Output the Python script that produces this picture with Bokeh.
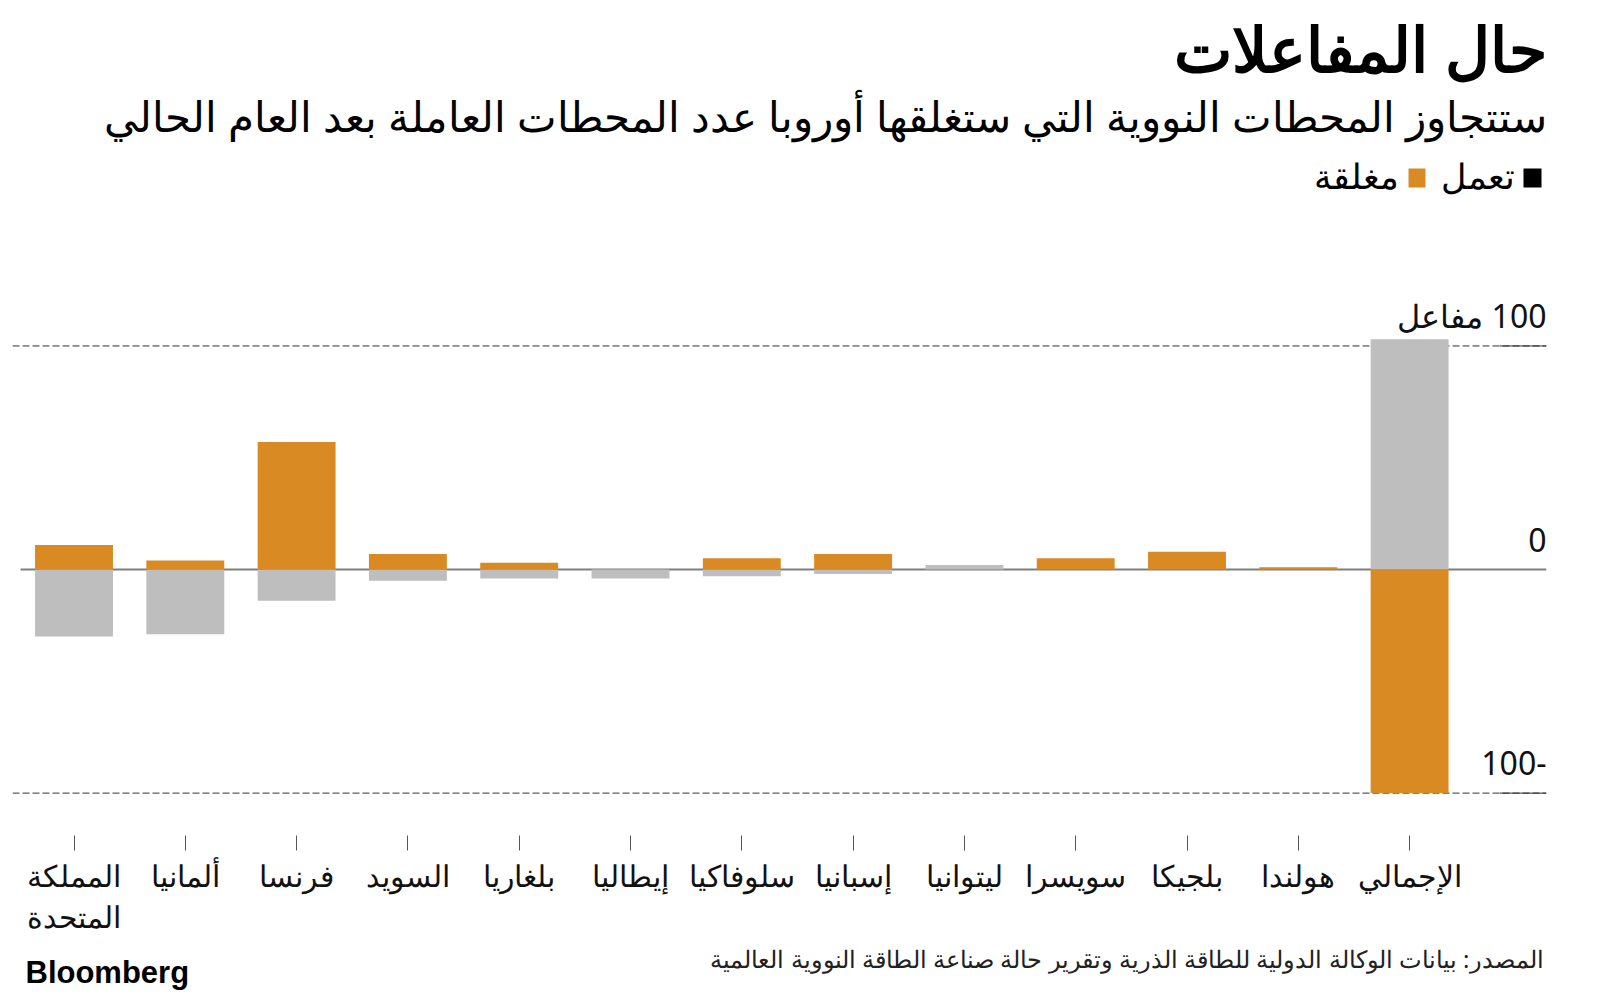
from bokeh.plotting import figure
from bokeh.models import Range1d, FixedTicker, LinearAxis, Span, Label
from bokeh.layouts import column
from bokeh.core.properties import value
from bokeh.embed import file_html
from bokeh.resources import INLINE

# ---------------- data ----------------
categories = ["المملكة\nالمتحدة", "ألمانيا", "فرنسا", "السويد", "بلغاريا", "إيطاليا",
              "سلوفاكيا", "إسبانيا", "ليتوانيا", "سويسرا", "بلجيكا", "هولندا", "الإجمالي"]
closed_values = [11, 4, 57, 7, 3, 0, 5, 7, 0, 5, 8, 1, -100]            # orange
operating_values = [-30, -29, -14, -5, -4, -4, -3, -2, 2, 0, 0, 0, 103]  # grey
y_ticks = [-100, 0, 100]
y_tick_labels = ["100-", "0", "\u200f100 مفاعل"]

title = "حال المفاعلات"
subtitle = "ستتجاوز المحطات النووية التي ستغلقها أوروبا عدد المحطات العاملة بعد العام الحالي"
legend_labels = ["تعمل", "مغلقة"]
source_text = "المصدر: بيانات الوكالة الدولية للطاقة الذرية وتقرير حالة صناعة الطاقة النووية العالمية"

ORANGE = "#DA8A22"
GREY = "#BEBEBE"
FONT = "Noto Sans"

W = 1600
HEADER_H = 250
MAIN_H = 690
FOOTER_H = 56
FRAME_L, FRAME_R = 12, 1546


def blank(height):
    f = figure(width=W, height=height, output_backend="svg", toolbar_location=None,
               x_range=Range1d(FRAME_L, FRAME_R), y_range=Range1d(height, 0),
               min_border_left=FRAME_L, min_border_right=W - FRAME_R,
               min_border_top=0, min_border_bottom=0,
               x_axis_type=None, y_axis_type=None)
    f.title.visible = False
    f.outline_line_color = None
    f.background_fill_color = "white"
    f.border_fill_color = "white"
    f.grid.visible = False
    return f


def add_label(f, text, x, y, size, align="right", bold=False, color="#000000", font=FONT):
    f.add_layout(Label(x=x, y=y, text=text, text_align=align, text_baseline="alphabetic",
                       text_font_size=f"{size}px", text_font_style="bold" if bold else "normal",
                       text_color=color, text_font=font))


# ---------------- header ----------------
header = blank(HEADER_H)
add_label(header, title, 1546, 47, 62, bold=True)
add_label(header, subtitle, 1546, 115, 42)
header.quad(left=[1523, 1408], right=[1541, 1425], top=[168, 168], bottom=[187, 187],
            fill_color=["#000000", ORANGE], line_color=None)
add_label(header, legend_labels[0], 1514, 175, 35)
add_label(header, legend_labels[1], 1398, 175, 35)

# ---------------- main chart ----------------
frame_bottom = 835 - HEADER_H  # within main figure
x_start, x_end = -0.5526, 13.23
y_start, y_end = -118.96, 142.7
idx = list(range(len(categories)))

p = figure(width=W, height=MAIN_H, output_backend="svg", toolbar_location=None,
           x_range=Range1d(x_start, x_end), y_range=Range1d(y_start, y_end),
           min_border_left=FRAME_L, min_border_right=W - FRAME_R,
           min_border_top=0, min_border_bottom=MAIN_H - frame_bottom,
           x_axis_type=None, y_axis_type=None)
p.title.visible = False
p.outline_line_color = None
p.background_fill_color = "white"
p.border_fill_color = "white"

for v in (y_ticks[0], y_ticks[2]):
    p.add_layout(Span(location=v, dimension="width", line_color="#333333",
                      line_width=1, line_dash="7 3", level="underlay"))
p.segment(x0=[x_start + 0.072], x1=[x_end], y0=[y_ticks[1]], y1=[y_ticks[1]],
          line_color="#7f7f7f", line_width=2, level="underlay")
p.segment(x0=[x_end - 0.42] * 2, x1=[x_end] * 2, y0=[y_ticks[0], y_ticks[2]],
          y1=[y_ticks[0], y_ticks[2]], line_color="#333333", line_width=1, level="underlay")

p.vbar(x=idx, top=operating_values, bottom=0, width=0.7, fill_color=GREY, line_color=None)
p.vbar(x=idx, top=closed_values, bottom=0, width=0.7, fill_color=ORANGE, line_color=None)

p.text(x=[x_end] * len(y_ticks), y=y_ticks, text=y_tick_labels, text_align="right",
       text_baseline="alphabetic", y_offset=-30, text_font_size="32px",
       text_font=value(FONT), text_color="#111111")

xaxis = LinearAxis(ticker=FixedTicker(ticks=idx),
                   major_label_overrides={i: c for i, c in enumerate(categories)})
xaxis.axis_line_color = None
xaxis.major_tick_in = 0
xaxis.major_tick_out = 15
xaxis.major_tick_line_color = "#555555"
xaxis.minor_tick_line_color = None
xaxis.major_label_text_font_size = "30px"
xaxis.major_label_text_font = FONT
xaxis.major_label_text_color = "#111111"
xaxis.major_label_text_line_height = 1.0
xaxis.major_label_standoff = 4
p.add_layout(xaxis, "below")

# ---------------- footer ----------------
footer = blank(FOOTER_H)
add_label(footer, source_text, 1543, 18, 24, color="#222222")
add_label(footer, "Bloomberg", 25, 32, 31, align="left", bold=True, font="Liberation Sans")

layout = column(header, p, footer, spacing=0)
open("out.html", "w").write(file_html(layout, INLINE))
